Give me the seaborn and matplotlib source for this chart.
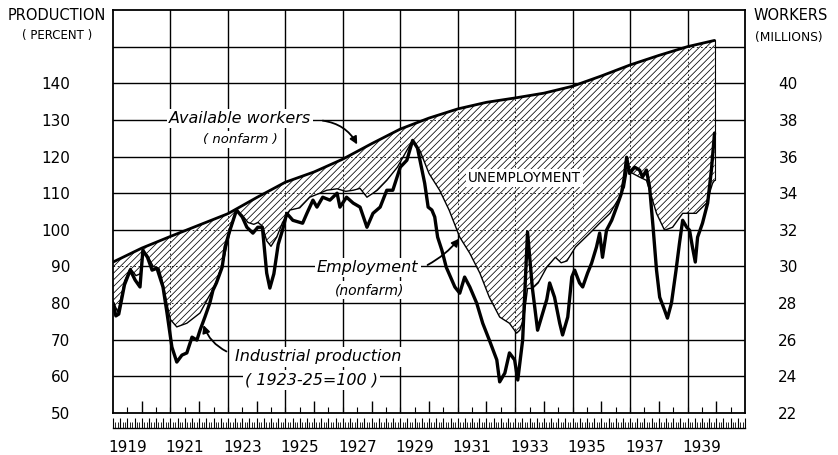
import numpy as np
import pandas as pd
import matplotlib
matplotlib.use("Agg")
import matplotlib.pyplot as plt
import seaborn as sns
from matplotlib.ticker import FixedLocator

# ---------------- data ----------------
avail_years = [1919.0, 1920.0, 1921.0, 1922.0, 1923.0, 1924.0, 1925.0, 1926.0, 1927.0,
               1928.0, 1929.0, 1930.0, 1931.0, 1932.0, 1933.0, 1934.0, 1935.0, 1936.0,
               1937.0, 1938.0, 1939.0, 1939.94]
avail_workers = [30.24, 31.0, 31.64, 32.26, 32.88, 33.76, 34.6, 35.16, 35.86,
                 36.7, 37.5, 38.1, 38.6, 38.96, 39.2, 39.46, 39.84, 40.4,
                 41.0, 41.52, 42.0, 42.34]

emp_years = [1919.0, 1919.17, 1919.4, 1919.6, 1919.8, 1919.95, 1920.04, 1920.2, 1920.4,
             1920.6, 1920.75, 1920.9, 1921.0, 1921.22, 1921.57, 1921.85, 1922.03, 1922.27,
             1922.48, 1922.6, 1922.83, 1923.07, 1923.3, 1923.5, 1923.7, 1923.9, 1924.05,
             1924.2, 1924.35, 1924.5, 1924.7, 1924.9, 1925.16, 1925.5, 1925.85, 1926.2,
             1926.44, 1926.8, 1927.1, 1927.36, 1927.6, 1927.84, 1928.2, 1928.53, 1928.9,
             1929.23, 1929.43, 1929.68, 1930.0, 1930.37, 1930.7, 1931.07, 1931.42, 1931.77,
             1932.1, 1932.46, 1932.8, 1933.05, 1933.16, 1933.3, 1933.43, 1933.6, 1933.8,
             1934.1, 1934.4, 1934.6, 1934.8, 1935.1, 1935.35, 1935.6, 1935.94, 1936.3,
             1936.63, 1936.8, 1936.9, 1937.09, 1937.33, 1937.57, 1937.75, 1937.92, 1938.2,
             1938.48, 1938.83, 1939.07, 1939.3, 1939.66, 1939.87, 1939.94]
emp_workers = [28.10, 27.50, 29.20, 29.90, 29.50, 29.60, 30.88, 30.60, 30.00,
               29.90, 29.00, 27.80, 27.10, 26.70, 26.90, 27.24, 27.46, 28.16,
               28.76, 29.20, 30.20, 31.90, 33.04, 32.80, 32.40, 32.30, 32.40,
               32.20, 31.40, 31.10, 31.60, 32.40, 33.08, 33.20, 33.78, 34.00,
               34.16, 34.24, 34.10, 34.16, 34.26, 33.78, 34.16, 34.70, 35.42,
               36.34, 36.88, 36.34, 35.08, 34.16, 33.08, 31.60, 30.72, 29.64,
               28.32, 27.24, 26.90, 26.36, 26.52, 27.20, 28.80, 28.80, 29.10,
               29.96, 30.50, 30.20, 30.30, 31.06, 31.44, 31.82, 32.36, 32.90,
               33.78, 34.32, 35.26, 35.08, 34.88, 34.70, 33.78, 32.90, 31.98,
               32.14, 32.90, 32.90, 32.90, 33.46, 34.54, 34.70]

prod_years = [1919.0, 1919.1, 1919.2, 1919.4, 1919.6, 1919.77, 1919.94, 1920.04, 1920.2,
              1920.36, 1920.53, 1920.74, 1920.88, 1921.05, 1921.22, 1921.4, 1921.57, 1921.75,
              1921.92, 1922.03, 1922.2, 1922.37, 1922.48, 1922.6, 1922.8, 1922.9, 1923.07,
              1923.3, 1923.5, 1923.66, 1923.87, 1924.04, 1924.2, 1924.35, 1924.46, 1924.6,
              1924.75, 1924.9, 1925.05, 1925.26, 1925.6, 1925.75, 1925.96, 1926.1, 1926.3,
              1926.55, 1926.8, 1926.9, 1927.13, 1927.36, 1927.6, 1927.84, 1928.05, 1928.3,
              1928.53, 1928.74, 1929.0, 1929.23, 1929.43, 1929.6, 1929.85, 1929.97, 1930.1,
              1930.2, 1930.3, 1930.45, 1930.6, 1930.9, 1931.07, 1931.24, 1931.42, 1931.66,
              1931.87, 1932.1, 1932.36, 1932.46, 1932.64, 1932.8, 1932.98, 1933.09, 1933.26,
              1933.43, 1933.6, 1933.78, 1934.1, 1934.2, 1934.37, 1934.55, 1934.65, 1934.83,
              1934.97, 1935.07, 1935.24, 1935.35, 1935.52, 1935.66, 1935.83, 1935.94, 1936.04,
              1936.18, 1936.36, 1936.53, 1936.7, 1936.8, 1936.88, 1936.98, 1937.16, 1937.33,
              1937.43, 1937.57, 1937.68, 1937.8, 1937.92, 1938.03, 1938.2, 1938.3, 1938.44,
              1938.6, 1938.72, 1938.83, 1938.97, 1939.07, 1939.17, 1939.27, 1939.35, 1939.52,
              1939.7, 1939.83, 1939.94]
prod_index = [80.0, 76.5, 77.0, 85.0, 89.0, 86.3, 84.4, 94.4, 92.5,
              89.0, 89.5, 84.4, 77.3, 68.0, 63.9, 65.8, 66.4, 70.7,
              69.9, 72.6, 76.2, 80.0, 83.5, 85.5, 89.8, 95.3, 99.9,
              105.4, 103.5, 100.7, 99.1, 100.7, 100.7, 88.2, 84.1, 88.0,
              96.0, 99.9, 104.5, 102.6, 101.8, 104.5, 108.1, 106.2, 108.9,
              108.1, 110.0, 106.2, 108.9, 107.3, 106.2, 100.7, 104.5, 106.2,
              110.8, 110.8, 117.1, 119.0, 124.4, 122.3, 112.7, 106.2, 105.4,
              103.5, 98.0, 94.4, 89.8, 84.4, 82.7, 87.1, 84.4, 80.0,
              74.5, 69.9, 64.5, 58.5, 60.9, 66.4, 64.5, 59.0, 69.9,
              99.4, 84.0, 72.6, 81.0, 85.5, 81.6, 74.5, 71.3, 76.2,
              87.1, 89.0, 85.5, 84.4, 88.2, 90.9, 95.3, 99.1, 92.5,
              99.9, 102.6, 106.2, 110.0, 114.4, 119.8, 115.4, 117.1, 116.3,
              114.4, 116.3, 111.6, 100.7, 89.0, 81.6, 78.1, 75.9, 80.0,
              89.0, 96.4, 102.6, 100.7, 99.9, 95.3, 91.2, 98.0, 101.8,
              107.3, 116.3, 126.4]

left_ticks = [50, 60, 70, 80, 90, 100, 110, 120, 130, 140]
right_ticks = [22, 24, 26, 28, 30, 32, 34, 36, 38, 40]
year_labels = [1919, 1921, 1923, 1925, 1927, 1929, 1931, 1933, 1935, 1937, 1939]
grid_years = [1921, 1923, 1925, 1927, 1929, 1931, 1933, 1935, 1937, 1939]
grid_levels = [60, 70, 80, 90, 100, 110, 120, 130, 140, 150]


def w2p(w):
    return 50 + (np.asarray(w, dtype=float) - 22) * 5


def p2w(p):
    return 22 + (np.asarray(p, dtype=float) - 50) / 5


sns.set_style("white")
plt.rcParams["font.family"] = ["DejaVu Sans"]
plt.rcParams["text.color"] = "black"
plt.rcParams["xtick.color"] = "black"
plt.rcParams["ytick.color"] = "black"
plt.rcParams["xtick.labelcolor"] = "black"
plt.rcParams["ytick.labelcolor"] = "black"
plt.rcParams["hatch.linewidth"] = 0.55
plt.rcParams["hatch.color"] = "black"

W, H = 838, 455
fig = plt.figure(figsize=(W / 100, H / 100), dpi=100)
ax = fig.add_axes([113 / W, 1 - 413 / H, (745 - 113) / W, (413 - 10) / H])
ax.set_xlim(1919, 1941)
ax.set_ylim(50, 160)

# grid
for g in grid_levels:
    ax.axhline(g, color="black", lw=1.0, zorder=0.5)
for g in grid_years:
    ax.axvline(g, color="black", lw=1.0, zorder=0.5)

# hatched unemployment area
emp_p = w2p(emp_workers)
av_p = w2p(avail_workers)
poly_x = np.concatenate([np.array(avail_years), np.array(emp_years)[::-1]])
poly_y = np.concatenate([av_p, emp_p[::-1]])
ax.fill(poly_x, poly_y, facecolor="white", edgecolor="black", hatch="/////",
        linewidth=0, zorder=1)
# faint dashed grid seen through hatch
for g in grid_levels:
    ax.axhline(g, color="black", lw=0.6, ls=(0, (2, 3)), zorder=1.2)
for g in grid_years:
    ax.axvline(g, color="black", lw=0.6, ls=(0, (2, 3)), zorder=1.2)

df_av = pd.DataFrame({"year": avail_years, "p": av_p})
df_emp = pd.DataFrame({"year": emp_years, "p": emp_p})
df_prod = pd.DataFrame({"year": prod_years, "p": prod_index})
sns.lineplot(data=df_emp, x="year", y="p", ax=ax, color="black", lw=1.0, zorder=2)
sns.lineplot(data=df_av, x="year", y="p", ax=ax, color="black", lw=2.0, zorder=2.5)
sns.lineplot(data=df_prod, x="year", y="p", ax=ax, color="black", lw=2.4, zorder=3)
ax.plot([emp_years[-1], avail_years[-1]], [emp_p[-1], av_p[-1]], color="black", lw=0.8, zorder=2)
ax.set_xlabel("")
ax.set_ylabel("")

# spines
for s in ax.spines.values():
    s.set_color("black")
    s.set_linewidth(1.3)

# left axis
ax.set_yticks(left_ticks)
ax.set_yticklabels([str(v) for v in left_ticks])
ax.tick_params(axis="y", length=0, pad=31, labelsize=11, labelcolor="black")

# x axis ruler: even-year ticks and half-year ticks pointing inward
ax.set_xticks(np.arange(1920, 1941, 2))
ax.xaxis.set_minor_locator(FixedLocator(np.arange(1919.5, 1941, 0.5)))
ax.tick_params(axis="x", which="major", direction="in", length=9, width=1.0,
               labelbottom=False, bottom=True, color="black")
ax.tick_params(axis="x", which="minor", direction="in", length=4, width=0.8, bottom=True,
               color="black")

band = ax.secondary_xaxis(-0.037)
band.set_xticks(np.arange(1919, 1941.001, 0.25))
band.xaxis.set_minor_locator(FixedLocator(np.arange(1919, 1941.001, 1 / 12)))
band.tick_params(which="major", direction="in", length=7, width=0.8, labelbottom=False,
                 color="black")
band.tick_params(which="minor", direction="in", length=4.5, width=0.6, color="black")
band.spines["bottom"].set_linewidth(1.0)
band.spines["bottom"].set_color("black")

lab = ax.secondary_xaxis(-0.037)
lab.set_xticks(np.array(year_labels) + 0.5)
lab.set_xticklabels([str(y) for y in year_labels])
lab.tick_params(length=0, pad=9, labelsize=11, labelcolor="black")
lab.spines["bottom"].set_visible(False)

# right axis
sec = ax.secondary_yaxis("right", functions=(p2w, w2p))
sec.set_yticks(right_ticks)
sec.set_yticklabels([str(v) for v in right_ticks])
sec.tick_params(length=0, pad=24, labelsize=11, labelcolor="black")
sec.spines["right"].set_visible(False)

# axis titles
fig.text(57 / W, 1 - 15.5 / H, "PRODUCTION", ha="center", va="center", fontsize=10.5)
fig.text(57 / W, 1 - 35 / H, "( PERCENT )", ha="center", va="center", fontsize=8.5)
fig.text(791 / W, 1 - 16 / H, "WORKERS", ha="center", va="center", fontsize=10.5)
fig.text(789 / W, 1 - 37 / H, "(MILLIONS)", ha="center", va="center", fontsize=8.8)

box = dict(facecolor="white", edgecolor="none", pad=1.5)
ax.text(1923.42, 130.4, "Available workers", style="italic", fontsize=11.5,
        ha="center", va="center", bbox=box, zorder=4)
ax.text(1923.42, 124.6, "( nonfarm )", style="italic", fontsize=9.5,
        ha="center", va="center", bbox=box, zorder=4)
ax.text(1933.33, 114.1, "UNEMPLOYMENT", fontsize=9.8,
        ha="center", va="center", bbox=box, zorder=4)
ax.text(1927.87, 89.7, "Employment", style="italic", fontsize=11.5,
        ha="center", va="center", bbox=box, zorder=4)
ax.text(1927.94, 83.5, "(nonfarm)", style="italic", fontsize=10,
        ha="center", va="center", bbox=box, zorder=4)
ax.text(1926.13, 65.3, "Industrial production", style="italic", fontsize=11.5,
        ha="center", va="center", bbox=box, zorder=4)
ax.text(1925.92, 59.0, "( 1923-25=100 )", style="italic", fontsize=11.5,
        ha="center", va="center", bbox=box, zorder=4)

arrow = dict(arrowstyle="-|>", color="black", lw=1.3, mutation_scale=11,
             shrinkA=0, shrinkB=0)
ax.annotate("", xy=(1927.5, 123.3), xytext=(1926.3, 129.8),
            arrowprops=dict(arrow, connectionstyle="arc3,rad=-0.25"), zorder=5)
ax.annotate("", xy=(1931.05, 97.6), xytext=(1929.95, 90.4),
            arrowprops=dict(arrow, connectionstyle="arc3,rad=0.1"), zorder=5)
ax.annotate("", xy=(1922.15, 74.0), xytext=(1922.95, 66.8),
            arrowprops=dict(arrow, connectionstyle="arc3,rad=-0.2"), zorder=5)

fig.savefig("out.png", dpi=100)
